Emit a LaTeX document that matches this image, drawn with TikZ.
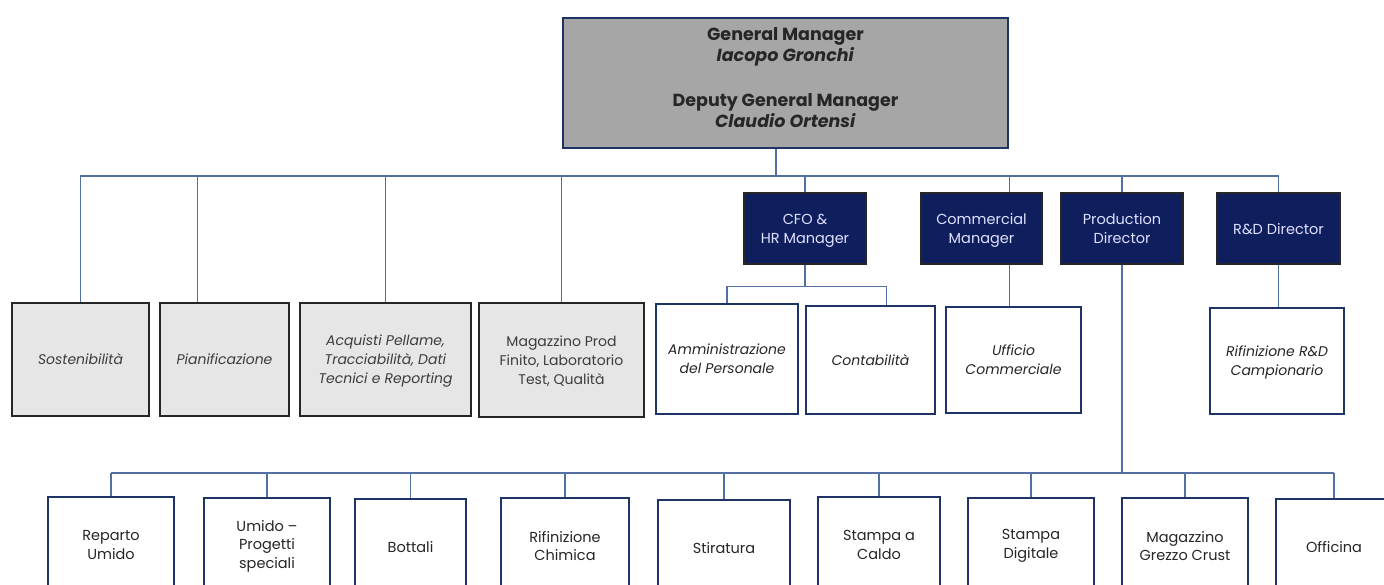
\documentclass[tikz,border=0pt]{standalone}
\usepackage{fontspec}
\setmainfont{Poppins}
\usepackage{tikz}
\usetikzlibrary{calc}
\definecolor{navy}{HTML}{0F1F5E}
\definecolor{wire}{HTML}{5470A2}
\definecolor{frame}{HTML}{1F3466}
\definecolor{ink}{HTML}{262626}
\definecolor{boss}{HTML}{A6A6A6}
\definecolor{pale}{HTML}{E6E6E6}

\begin{document}
\begin{tikzpicture}[x=1pt,y=-1pt,
  every node/.style={align=center,inner sep=2pt,font=\fontsize{14}{19}\selectfont},
  link/.style={wire,line width=1.1pt},
  gmbox/.style={draw=frame,fill=boss,line width=1.4pt,text=ink,font=\bfseries\fontsize{17.5}{21}\selectfont},
  staff/.style={draw=ink,fill=pale,line width=1.6pt,text=ink!90,minimum height=113pt,text depth=-3pt},
  head/.style={draw=ink,fill=navy,line width=1.3pt,text=white!88!blue,minimum width=122pt,minimum height=71pt,font=\fontsize{14.5}{19}\selectfont,text depth=-5pt},
  office/.style={draw=frame,fill=white,line width=1.6pt,text=ink,minimum height=107pt,font=\itshape\fontsize{14}{19}\selectfont,text depth=-6pt},
  dept/.style={draw=frame,fill=white,line width=1.6pt,text=ink,minimum height=96pt,font=\fontsize{14.5}{18.5}\selectfont}]
\clip (0,0) rectangle (1384,584);
\fill[white] (0,0) rectangle (1384,584);

% top management
\node[gmbox,minimum width=445pt,minimum height=130pt] (gm) at (785.5,83)
  {General Manager\\\textit{Iacopo Gronchi}\\[24pt]Deputy General Manager\\\textit{Claudio Ortensi}\rule[-11pt]{0pt}{11pt}};

% staff offices (grey)
\node[staff,minimum width=137pt] (sost) at (80.5,359.5) {\textit{Sostenibilità}};
\node[staff,minimum width=129pt] (pian) at (224.5,359.5) {\textit{Pianificazione}};
\node[staff,minimum width=171pt] (acq) at (385.5,359.5) {\textit{Acquisti Pellame,}\\\textit{Tracciabilità, Dati}\\\textit{Tecnici e Reporting}};
\node[staff,minimum width=165pt,minimum height=114pt] (mag) at (561.5,360) {Magazzino Prod\\Finito, Laboratorio\\Test, Qualità};

% directors
\node[head] (cfo) at (805,228.5) {CFO \&\\HR Manager};
\node[head,minimum width=121pt] (comm) at (981.5,228.5) {Commercial\\Manager};
\node[head] (prod) at (1122,228.5) {Production\\Director};
\node[head,minimum width=123pt,text depth=0pt] (rnd) at (1278.5,228.5) {R\&D Director};

% offices under the directors
\node[office,minimum width=142pt,minimum height=110pt] (amm) at (727,359) {Amministrazione\\del Personale};
\node[office,minimum width=129pt,minimum height=108pt,text depth=0pt] (cont) at (870.5,360) {Contabilità};
\node[office,minimum width=135pt,minimum height=106pt] (uff) at (1013.5,360) {Ufficio\\Commerciale};
\node[office,minimum width=134pt,minimum height=106pt] (rif) at (1277,361) {Rifinizione R\&D\\Campionario};

% production departments
\node[dept,minimum width=126pt] (rep) at (111,545) {Reparto\\Umido};
\node[dept,minimum width=126pt] (umi) at (267,546) {Umido --\\Progetti\\speciali};
\node[dept,minimum width=111pt] (bot) at (410.5,547) {Bottali};
\node[dept,minimum width=128pt] (chim) at (565,546) {Rifinizione\\Chimica};
\node[dept,minimum width=132pt] (stir) at (724,548) {Stiratura};
\node[dept,minimum width=122pt] (cald) at (879,545) {Stampa a\\Caldo};
\node[dept,minimum width=126pt] (dig) at (1031,546) {Stampa\\Digitale};
\node[dept,minimum width=126pt] (crust) at (1185,546) {Magazzino\\Grezzo Crust};
\node[dept,minimum width=116pt] (off) at (1334,547) {Officina};

% first level bus
\coordinate (hub) at (776,176);
\coordinate (piandrop) at ($(pian.north west)+(38,0)$);
\coordinate (commdrop) at ($(comm.north east)+(-33,0)$);
\draw[link] (hub |- gm.south) -- (hub);
\draw[link] (sost.north) -- (sost.north |- hub) -- (rnd.north |- hub) -- (rnd.north);
\foreach \n in {acq,mag,cfo,prod}
  \draw[link] (\n.north |- hub) -- (\n.north);
\draw[link] (piandrop |- hub) -- (piandrop);
\draw[link] (commdrop |- hub) -- (commdrop);

% second level
\draw[link] (cfo.south) -- ++(0,22) coordinate (cfofork);
\draw[link] (amm.north) |- (cfofork) -| ($(cont.north)+(16,0)$);
\draw[link] (commdrop |- comm.south) -- (commdrop |- uff.north);
\draw[link] (rnd.south) -- (rnd.south |- rif.north);

% production bus
\coordinate (lowbus) at (1122,473);
\draw[link] (prod.south) -- (lowbus);
\draw[link] (rep.north |- lowbus) -- (off.north |- lowbus);
\foreach \n in {rep,umi,bot,chim,stir,cald,dig,crust,off}
  \draw[link] (\n.north |- lowbus) -- (\n.north);
\end{tikzpicture}
\end{document}
